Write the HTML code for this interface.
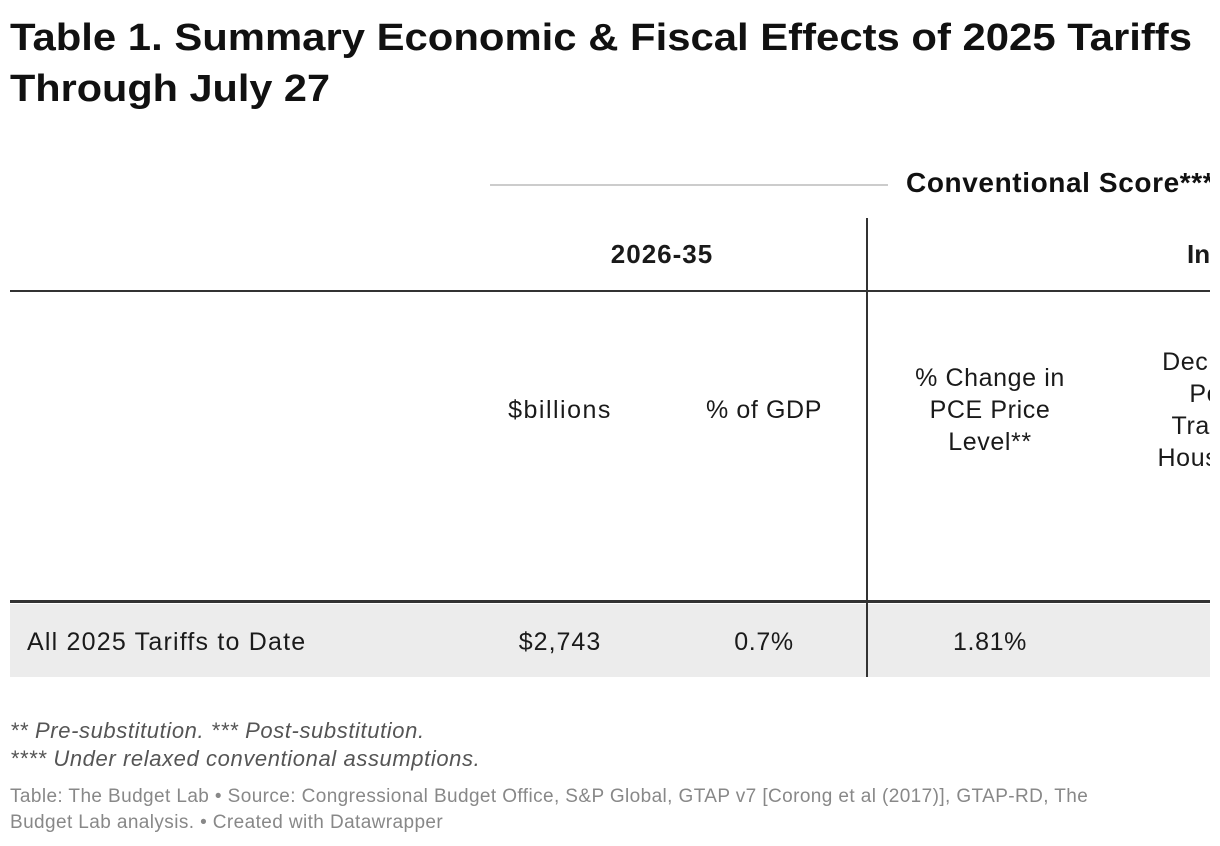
<!DOCTYPE html>
<html><head><meta charset="utf-8"><style>
body{margin:0;background:#fff;width:1220px;height:846px;overflow:hidden;position:relative;font-family:"Liberation Sans",Arial,sans-serif;color:#1a1a1a}
.a{position:absolute;white-space:nowrap}
#tbl{position:absolute;left:10px;top:140px;width:1200px;height:545px;overflow:hidden}
.c{position:absolute;white-space:nowrap;transform:translateX(-50%);text-align:center;font-size:25px;line-height:32px;letter-spacing:0.6px}
</style></head><body>
<svg class="a" style="left:0;top:0" width="1220" height="115">
<text x="10" y="50" font-family="Liberation Sans, Arial, sans-serif" font-weight="bold" font-size="38" fill="#111" textLength="1182" lengthAdjust="spacingAndGlyphs">Table 1. Summary Economic &amp; Fiscal Effects of 2025 Tariffs</text>
<text x="10" y="101" font-family="Liberation Sans, Arial, sans-serif" font-weight="bold" font-size="38" fill="#111" textLength="320" lengthAdjust="spacingAndGlyphs">Through July 27</text>
</svg>
<div id="tbl">
 <div class="a" style="left:480px;top:44px;width:398px;height:2px;background:#ccc"></div>
 <div class="a" style="left:896px;top:27px;font-size:28px;font-weight:bold;line-height:32px;color:#111;letter-spacing:0.6px">Conventional Score***</div>
 <div class="a" style="left:856px;top:78px;width:2px;height:459px;background:#333"></div>
 <div class="c" style="left:652px;top:98px;font-weight:bold;font-size:26px;letter-spacing:1px">2026-35</div>
 <div class="a" style="left:1177px;top:98px;font-weight:bold;font-size:26px;line-height:32px">In</div>
 <div class="a" style="left:0;top:150px;width:1200px;height:2px;background:#333"></div>
 <div class="c" style="left:550px;top:254px;letter-spacing:1.5px">$billions</div>
 <div class="c" style="left:754px;top:254px">% of GDP</div>
 <div class="c" style="left:980px;top:222px">% Change in<br>PCE Price<br>Level**</div>
 <div class="c" style="left:1210px;top:206px">Decline in<br>Post-<br>Transfer<br>Household</div>
 <div class="a" style="left:0;top:460px;width:1200px;height:3px;background:#333"></div>
 <div class="a" style="left:0;top:464px;width:1200px;height:73px;background:#ececec"></div>
 <div class="a" style="left:856px;top:464px;width:2px;height:73px;background:#333"></div>
 <div class="a" style="left:17px;top:486px;font-size:25px;line-height:32px;letter-spacing:1.2px">All 2025 Tariffs to Date</div>
 <div class="c" style="left:550px;top:486px;letter-spacing:1px">$2,743</div>
 <div class="c" style="left:754px;top:486px">0.7%</div>
 <div class="c" style="left:980px;top:486px">1.81%</div>
</div>
<div class="a" style="left:10px;top:717px;font-size:22px;line-height:28px;font-style:italic;color:#555;letter-spacing:0.6px">** Pre-substitution. *** Post-substitution.<br>**** Under relaxed conventional assumptions.</div>
<div class="a" style="left:10px;top:784px;font-size:19px;line-height:26px;color:#888;white-space:normal;width:1120px;letter-spacing:0.4px">Table: The Budget Lab • Source: Congressional Budget Office, S&amp;P Global, GTAP v7 [Corong et al (2017)], GTAP-RD, The Budget Lab analysis. • Created with Datawrapper</div>
</body></html>
